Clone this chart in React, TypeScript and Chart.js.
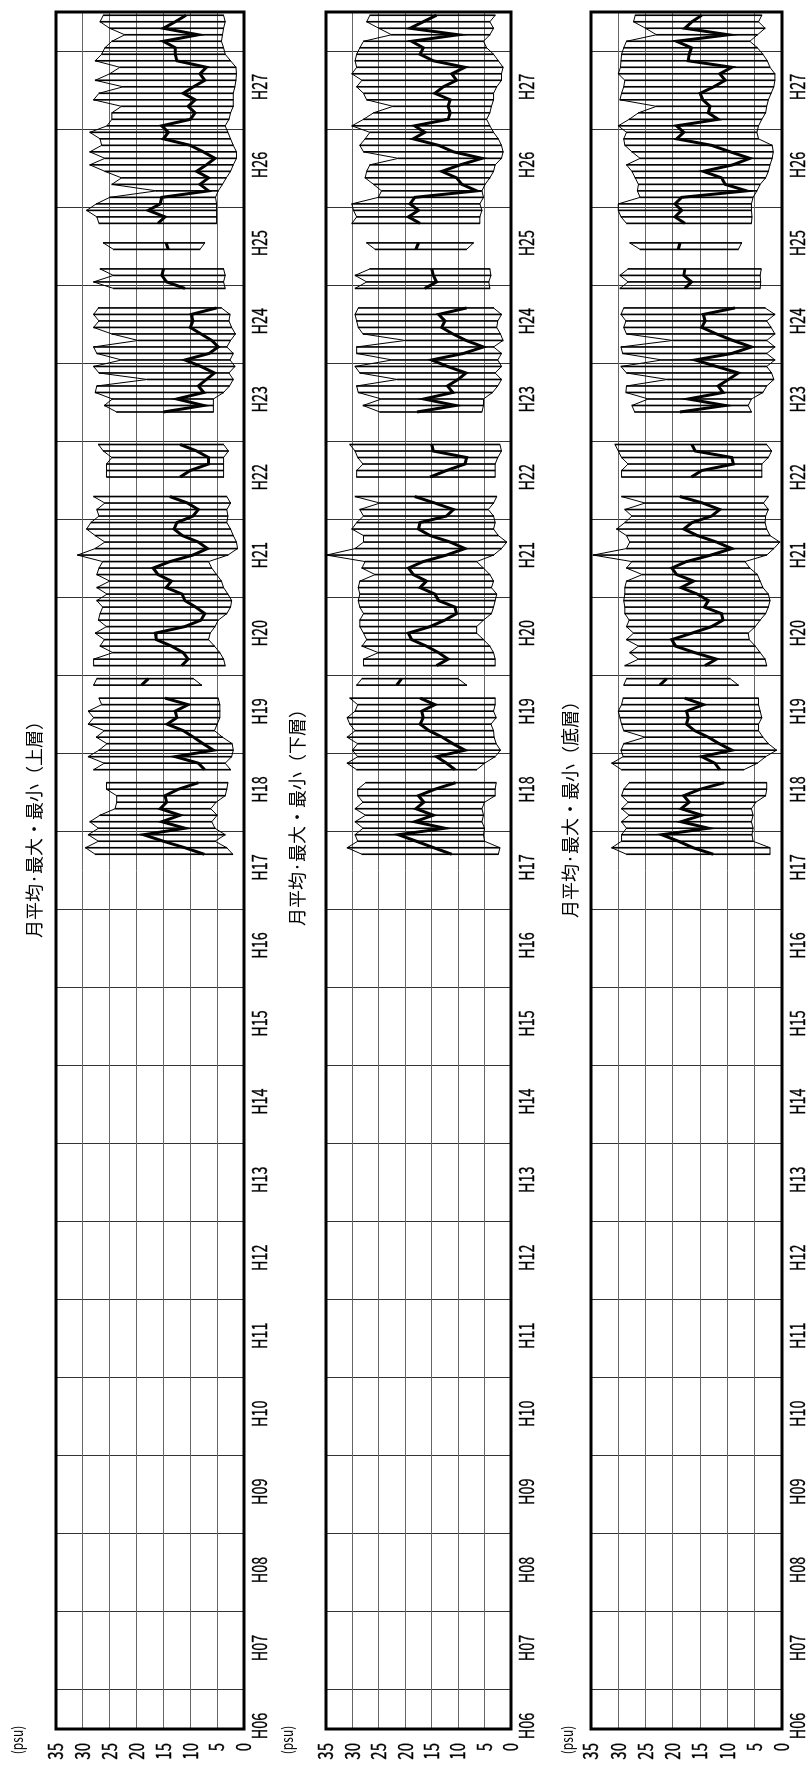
import React, { useEffect, useRef } from 'react';
import { Chart, registerables } from 'chart.js';

Chart.register(...registerables);

// Months are counted from January H06 (index 0); the series start in March H17.
const FIRST_MONTH = 134;
const TOTAL_MONTHS = 264;
const YEAR_LABELS = ['H06', 'H07', 'H08', 'H09', 'H10', 'H11', 'H12', 'H13', 'H14', 'H15', 'H16', 'H17', 'H18', 'H19', 'H20', 'H21', 'H22', 'H23', 'H24', 'H25', 'H26', 'H27'];
const VALUE_TICKS = [0, 5, 10, 15, 20, 25, 30, 35];
const UNIT_LABEL = '(psu)';
const TITLES = ['月平均·最大・最小（上層）', '月平均·最大・最小（下層）', '月平均·最大・最小（底層）'];

// ---- 上層 (upper layer) ----
const MEAN_UPPER = [
  7.4, 11, 15, 18.7, 11, 15.3, 11.9, 15.6, 14.4, 14.7,
  12.2, 8.5, null, 7.3, 8.5, 12.8, 5.7, 7.6, 9.4, 11.3, 14.3, 12.5,
  12.8, 10.4, 14.7, null, 19.1, 17.8, null, 11.6, 10.4, 11.3, 13.5, 16.3,
  16.5, 11, 8, 7.3, 9, 11, 11.5, 14.5, 13.5, 16, 16.9, 13.8,
  9.5, 6.8, 8.5, 11.5, 13, 12.5, 9.5, 8.5, 10.5, 13.8, null, null,
  11.9, 10, 6.6, 6.6, 8.8, 11.9, null, null, null, null, 15, 7.5,
  12.5, 7.5, 8.5, 7, 5.5, 8, 11, 6.5, 4.8, 6, 8, 10,
  9.5, 9.8, 5.1, null, null, 11, 14.4, 15.3, 15, null, null, 14.1,
  14.5, null, null, 16, 14.7, 17.8, 15.6, 15.3, 6.6, 8.2, 6.6, 8.8,
  7, 5.4, 7.6, 10, 15, 14.1, 15.3, 10, 9.1, 10.4, 9.1, 11.3,
  9.4, 7.3, 8.2, 7, 12.5, 12.8, 12.8, 15, 8.5, 15, 12.8, 10.8,
];
const MAX_UPPER = [
  27.7, 29.5, 27.1, 29, 27.1, 28.7, 26.8, 24, 23.7, 23.7,
  25.6, 25.6, null, 28, 26, 29, 27, 25.5, 27.5, 26, 29, 28,
  29, 26.5, 27, null, 28, 27.4, null, 28, 28, 24.4, 26.8, 26,
  27.7, 25.6, 27.1, 26.8, 26.3, 27.4, 25.5, 27.4, 25, 27.4, 27, 26.3,
  31, 27.7, 25.9, 27.7, 29.3, 28.5, 27, 27.4, 25.9, 28, null, null,
  25.6, 25.6, 25.6, 24.6, 26.2, 27.1, null, null, null, null, 23.7, 26,
  24.5, 27.7, 27.4, 18, 27, 28, 22.8, 27.4, 28, 19.7, 24.6, 28,
  27, 28, 27.1, null, null, 24.3, 28, 24.3, 26.8, null, null, 24.3,
  26.2, null, null, 27, 27.4, 29.3, 27.5, 25, 16.3, 24.6, 22.8, 25.9,
  28.7, 25.9, 28.7, 26.5, 26.8, 28.7, 25.5, 24.6, 24.6, 22.8, 28, 27,
  22.5, 27.7, 25, 23.1, 27.7, 26.5, 25.9, 24.6, 22.2, 25, 26.8, 26.2,
];
const MIN_UPPER = [
  2.1, 3.2, 5.4, 3.5, 5.4, 6, 5, 6.2, 5.2, 3.5,
  3.2, 3, null, 2.5, 3.5, 2.3, 2, 2.2, 4, 5.5, 5, 4.5,
  4.5, 4.5, 4.8, null, 7.9, 9.4, null, 3.5, 3.8, 4.5, 5.5, 6.6,
  6.3, 5.4, 4.8, 3.2, 2.5, 2.3, 3, 3.8, 4.2, 5.1, 6, 6.6,
  3, 1.2, 1.4, 2, 2.5, 3.2, 3, 3.2, 2.5, 3.2, null, null,
  3.8, 3.8, 3.8, 3.8, 2.9, 3.8, null, null, null, null, 5.7, 5.7,
  5.7, 3.8, 2.7, 2, 2.8, 1.7, 2.6, 2, 3.2, 2.5, 1.6, 2.3,
  2.8, 2.6, 4.2, null, null, 3.5, 3.8, 3.5, 3.8, null, null, 8.2,
  7.3, null, null, 5.1, 5.1, 5.1, 5.1, 5.3, 4.8, 4, 3.3, 2.5,
  2, 1.4, 1.4, 2, 2.5, 3, 3.5, 2.8, 2.5, 2, 2, 2,
  1.7, 1.5, 1.4, 1.5, 2.5, 3.5, 3.8, 4.2, 4, 3.8, 3.5, 3.8,
];

// ---- 下層 (lower layer) ----
const MEAN_LOWER = [
  11.2, 14.6, 17.9, 21.3, 12.5, 18.2, 14.7, 18, 16.5, 17.5,
  14.4, 10.5, null, 10.6, 12.2, 14.1, 8.7, 11, 13, 15.5, 17.2, 16.6,
  16.9, 14.4, 17.2, null, 21.6, 20.7, null, 14.1, 11.9, 13.7, 16, 18.8,
  19.4, 15.3, 12.5, 10.3, 10.6, 13.7, 14.4, 17.2, 16, 18.5, 19.4, 16.6,
  12.2, 8.7, 11.5, 15.3, 17.5, 17.2, 12.2, 10.9, 14.4, 18.2, null, null,
  15.3, 12.2, 8.7, 8.4, 14.7, 15, null, null, null, null, 17.8, 10.5,
  16.5, 11, 12, 10, 8.5, 12, 15, 9, 5.2, 8.5, 11, 13.1,
  12.5, 13.7, 8.4, null, null, 16.3, 14.1, 14.7, 15, null, null, 18,
  17.5, null, null, 17.2, 19.4, 17.5, 19.1, 18.2, 6.5, 9.3, 10.3, 13.1,
  9.6, 5.5, 10.9, 13.7, 18.5, 16.3, 18.2, 11.9, 11.5, 11.9, 11.5, 14.4,
  12.8, 10.3, 11.2, 8.7, 14.7, 17.2, 16.6, 18.8, 10, 19.1, 16.6, 14.1,
];
const MAX_LOWER = [
  28.2, 31, 29, 29.5, 28, 29.5, 27.5, 29.5, 28, 29,
  29, 27.5, null, 29.2, 31, 29, 30, 29, 31, 29.5, 30.5, 31,
  29.5, 29, 30.5, null, 29.2, 28.2, null, 27.9, 27.9, 25.1, 28.2, 27.3,
  27.9, 28.6, 28.6, 27.9, 28.6, 28.9, 28.6, 28.9, 28.6, 25.7, 28.2, 27.6,
  34.9, 29.5, 27.9, 27.9, 30.1, 29.2, 27.9, 28.6, 24.8, 29.5, null, null,
  29.2, 29.2, 28, 29, 29.5, 30.5, null, null, null, null, 24.8, 28,
  24.5, 28.9, 29.2, 21.5, 28.6, 29.5, 22.5, 29.2, 29.2, 20, 28, 28.9,
  29.2, 29.5, 28.9, null, null, 29.5, 27.3, 29.5, 26.7, null, null, 25.7,
  27.3, null, null, 30.1, 29.2, 29.8, 30.1, 25.1, 24.5, 26, 27.6, 27.3,
  26.7, 21.3, 27.9, 28.6, 27.6, 26.7, 30.1, 27.9, 26, 22.3, 27.3, 27.9,
  29.2, 28.2, 30.1, 29.2, 29.5, 29.2, 28.6, 27.9, 22.6, 25, 27.3, 26.7,
];
const MIN_LOWER = [
  2.4, 2.1, 5, 5.2, 5, 5.5, 5.2, 5.5, 5, 3,
  3, 2.8, null, 6.5, 5, 3, 2, 2.8, 3.2, 3.3, 3.8, 2.8,
  3.3, 3, 3, null, 8.4, 10, null, 3, 3, 3.3, 4, 5.2,
  6.5, 6.5, 5.2, 3.7, 3.3, 3, 2.7, 3.7, 3.3, 4, 5.2, 6.5,
  3.3, 1.8, 0.8, 2.4, 3.3, 3, 3.3, 4.3, 3.3, 2.7, null, null,
  3, 3, 3, 2.5, 1.8, 2.1, null, null, null, null, 5.5, 5.2,
  5.2, 3.5, 2.5, 1.8, 3, 1.8, 2.5, 1.8, 3.3, 1.5, 2, 2.7,
  2.5, 1.8, 3.3, null, null, 4, 4.2, 3.8, 4, null, null, 8.4,
  7.1, null, null, 5.9, 5.9, 5.5, 5.9, 5.2, 5.5, 4.9, 4, 3.3,
  3, 1.8, 1.5, 1.8, 2.4, 3.3, 4, 4.6, 4, 3.7, 3.3, 3.3,
  2.7, 1.8, 1.8, 1.5, 2.4, 3.3, 4.6, 5.2, 4, 3.3, 4, 3,
];

// ---- 底層 (bottom layer) ----
const MEAN_BOTTOM = [
  12.6, 16.3, 19, 22, 13.5, 18.5, 14.7, 18.5, 17, 18,
  15, 10.6, null, 11.4, 12.3, 14.7, 9.2, 11.5, 13.5, 16, 17.5, 17.2,
  17.5, 14.4, 17.8, null, 22.4, 21.1, null, 14.1, 12, 16, 19.5, 20.2,
  16.5, 12.9, 10.8, 11.1, 14.2, 13.5, 15.5, 18.5, 16.2, 19.3, 20.2, 17.5,
  13, 9.2, 12, 15.5, 18, 16.5, 12.9, 11.4, 14.5, 18.7, null, null,
  16.6, 14.7, 8.9, 9.2, 15.9, 16.5, null, null, null, null, 18.7, 10.4,
  17.2, 10.8, 11.7, 9.8, 8, 12, 15.9, 9.2, 5.6, 9, 12, 14.7,
  14.1, 14.4, 8.6, null, null, 17.8, 16.6, 18, 17.8, null, null, 19,
  18.7, null, null, 17.8, 19.6, 18.4, 19.6, 18.4, 6.5, 10.4, 11.1, 14.4,
  9, 5.9, 9.5, 12.9, 19.3, 18, 19.3, 11.7, 13.5, 13.2, 14.5, 15,
  12.5, 10.4, 11.4, 9.2, 17.2, 17, 16.6, 19.3, 9.8, 17.8, 16.5, 14.7,
];
const MAX_BOTTOM = [
  28.5, 31.2, 29.4, 29.4, 28.5, 29.4, 28, 29.4, 28.2, 29.4,
  29, 28, null, 29.4, 31.2, 29.1, 29.5, 29, 25.1, 29, 29.4, 29.7,
  30, 29.4, 29.1, null, 29, 28.5, null, 28.8, 26.3, 27.9, 26.3, 28.5,
  27.2, 28.5, 28, 28.8, 28.8, 29, 28.8, 28.8, 28.5, 25.6, 28.5, 27.5,
  34.6, 28.5, 27.9, 28.5, 30.3, 28.8, 27.5, 28.8, 25.1, 29.4, null, null,
  29.4, 29.4, 28.2, 29.4, 30, 30.6, null, null, null, null, 27, 27.5,
  24.5, 28.6, 28.5, 21, 28.5, 29.5, 22, 29.2, 29.5, 20, 28.5, 29,
  28.6, 29.5, 29, null, null, 29.7, 28.2, 29.7, 28.2, null, null, 26,
  27.9, null, null, 28.5, 29.5, 30, 30, 26, 26.5, 26.3, 26.9, 27.5,
  28.5, 26, 27.5, 28.8, 29, 28.5, 30, 28, 26.3, 23, 29.7, 29.4,
  29, 28.8, 30, 29.6, 29.5, 29.4, 29, 28.5, 23, 25, 27.2, 26.9,
];
const MIN_BOTTOM = [
  2.2, 2.2, 5.3, 5.5, 5.3, 5.6, 5.3, 5.6, 4.8, 3,
  2.8, 2.8, null, 7, 4.5, 3, 1, 2.5, 3.5, 4.3, 4.3, 3.7,
  4, 4.3, 4.3, null, 8, 9.5, null, 2.8, 3.1, 4, 4.9, 6,
  6.2, 4.9, 4, 3, 2.5, 2.2, 2.5, 3.5, 4, 4.5, 5.9, 6.8,
  2.8, 1.5, 0.4, 2.2, 2.8, 3.1, 3, 2.5, 3.4, 2.5, null, null,
  3.7, 3.7, 3.7, 2.5, 1.9, 2.8, null, null, null, null, 5.6, 6.2,
  5.6, 3.5, 2.8, 1.5, 1.9, 2.8, 1.3, 2.8, 1.3, 2.8, 1.3, 2,
  2.8, 1.3, 3.1, null, null, 4, 3.9, 4, 3.8, null, null, 8,
  7.4, null, null, 5.6, 5.5, 5.6, 5.6, 5.3, 4.6, 4, 3, 2.5,
  2.2, 1.8, 1.6, 1.8, 4.3, 4.6, 4.3, 3.7, 3, 2.8, 2.5, 2,
  1.5, 1.3, 1.3, 2.2, 2.7, 3.5, 4.5, 5.9, 4.5, 3.1, 4.3, 3.7,
];

const SERIES = [
  { mean: MEAN_UPPER, max: MAX_UPPER, min: MIN_UPPER },
  { mean: MEAN_LOWER, max: MAX_LOWER, min: MIN_LOWER },
  { mean: MEAN_BOTTOM, max: MAX_BOTTOM, min: MIN_BOTTOM },
];

// Layout of each panel in its unrotated frame (the panel is turned 90° counter-clockwise on the page).
const PAGE_H = 1769;
const LAYOUT = [
  { left: 0, height: 270, plotTop: 56, plotBottom: 244, titleX: 944, titleY: 34, unitY: 17 },
  { left: 270, height: 270, plotTop: 56, plotBottom: 241, titleX: 956, titleY: 27, unitY: 17 },
  { left: 540, height: 268, plotTop: 51, plotBottom: 242, titleX: 964, titleY: 30, unitY: 27 },
];

const FONT = '"Noto Sans CJK JP", "Noto Sans", sans-serif';

function drawCondensed(ctx: CanvasRenderingContext2D, text: string, x: number, y: number, sx: number, align: CanvasTextAlign, bold: number) {
  ctx.save();
  ctx.translate(x, y);
  ctx.scale(sx, 1);
  ctx.textAlign = align;
  ctx.fillText(text, 0, 0);
  if (bold > 0) {
    ctx.lineWidth = bold;
    ctx.strokeStyle = '#000';
    ctx.strokeText(text, 0, 0);
  }
  ctx.restore();
}

const decorPlugin = {
  id: 'decor',
  afterDatasetsDraw(chart: any) {
    const { ctx, chartArea: a } = chart;
    ctx.save();
    ctx.strokeStyle = '#000';
    ctx.lineWidth = 3;
    ctx.strokeRect(a.left, a.top, a.right - a.left, a.bottom - a.top);
    ctx.restore();
  },
  afterDraw(chart: any, _args: any, opts: any) {
    const { ctx, chartArea: a, scales } = chart;
    const xs = scales.x;
    const ys = scales.y;
    ctx.save();
    ctx.fillStyle = '#000';
    ctx.textBaseline = 'alphabetic';
    ctx.font = `20px ${FONT}`;
    YEAR_LABELS.forEach((lab, k) => {
      drawCondensed(ctx, lab, xs.getPixelForValue(k * 12) + 3, a.bottom + 22.5, 0.72, 'center', 0.3);
    });
    VALUE_TICKS.forEach((v) => {
      drawCondensed(ctx, String(v), a.left - 14, ys.getPixelForValue(v) + 7.3, 0.75, 'right', 0.3);
    });
    ctx.textBaseline = 'middle';
    ctx.font = `18px ${FONT}`;
    ctx.textAlign = 'center';
    ctx.fillText(opts.title, opts.titleX, opts.titleY);
    ctx.font = `15px ${FONT}`;
    drawCondensed(ctx, UNIT_LABEL, opts.unitX, opts.unitY, 0.8, 'center', 0);
    ctx.restore();
  },
};

function Panel({ index }: { index: number }) {
  const ref = useRef<HTMLCanvasElement>(null);
  const lay = LAYOUT[index];
  useEffect(() => {
    const s = SERIES[index];
    const pts = (arr: (number | null)[]) => arr.map((v, k) => ({ x: FIRST_MONTH + k + 0.5, y: v }));
    const ranges: any[] = [];
    s.max.forEach((hi, k) => {
      const lo = s.min[k];
      if (hi != null && lo != null) ranges.push({ x: FIRST_MONTH + k + 0.5, y: [lo, hi] });
    });
    const chart = new Chart(ref.current as HTMLCanvasElement, {
      type: 'bar',
      data: {
        datasets: [
          { type: 'line', data: pts(s.mean), borderColor: '#000', borderWidth: 3, pointRadius: 0, spanGaps: false, order: 0 } as any,
          { type: 'line', data: pts(s.max), borderColor: '#000', borderWidth: 1, pointRadius: 0, spanGaps: false, order: 1 } as any,
          { type: 'line', data: pts(s.min), borderColor: '#000', borderWidth: 1, pointRadius: 0, spanGaps: false, order: 2 } as any,
          { type: 'bar', data: ranges, backgroundColor: '#000', barThickness: 1, order: 3 } as any,
        ],
      },
      options: {
        animation: false,
        responsive: false,
        maintainAspectRatio: false,
        events: [],
        layout: { padding: { top: lay.plotTop, right: 12, left: 0, bottom: 0 } },
        plugins: {
          legend: { display: false },
          tooltip: { enabled: false },
          decor: { title: TITLES[index], titleX: lay.titleX, titleY: lay.titleY, unitX: 29, unitY: lay.unitY },
        } as any,
        scales: {
          x: {
            type: 'linear',
            min: 0,
            max: TOTAL_MONTHS,
            offset: false,
            ticks: { display: false, stepSize: 12, autoSkip: false },
            grid: { color: '#333', lineWidth: 1, drawTicks: false },
            border: { display: false },
            afterFit: (sc: any) => { sc.height = lay.height - lay.plotBottom; },
          },
          y: {
            min: 0,
            max: 35,
            ticks: { display: false, stepSize: 5 },
            grid: { color: '#666', lineWidth: 1, drawTicks: false },
            border: { display: false },
            afterFit: (sc: any) => { sc.width = 40; },
          },
        } as any,
      },
      plugins: [decorPlugin as any],
    });
    return () => chart.destroy();
  }, [index]);
  return (
    <div
      style={{
        position: 'absolute',
        left: 0,
        top: 0,
        width: PAGE_H,
        height: lay.height,
        transformOrigin: '0 0',
        transform: `translate(${lay.left}px, ${PAGE_H}px) rotate(-90deg)`,
      }}
    >
      <canvas ref={ref} width={PAGE_H} height={lay.height} />
    </div>
  );
}

export default function App() {
  return (
    <div style={{ position: 'absolute', left: 0, top: 0, width: 808, height: PAGE_H, overflow: 'hidden', background: '#fff' }}>
      {LAYOUT.map((_, i) => (
        <Panel key={i} index={i} />
      ))}
    </div>
  );
}
